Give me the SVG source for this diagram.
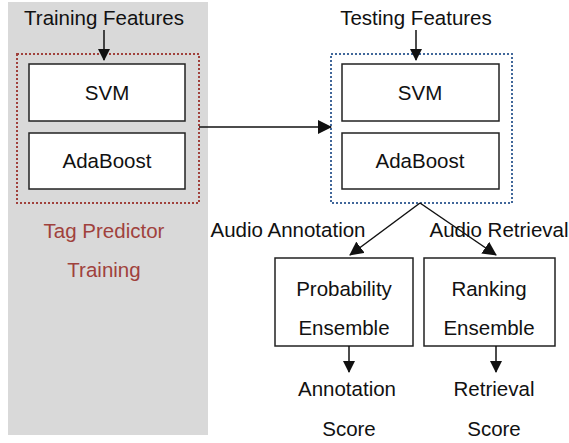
<svg xmlns="http://www.w3.org/2000/svg" width="569" height="443" viewBox="0 0 569 443">
<style>
text{font-family:"Liberation Sans",Arial,sans-serif;font-size:20.5px;fill:#111;text-anchor:middle}
.box{fill:#fff;stroke:#222;stroke-width:1.5}
.c{stroke:#111;stroke-width:1.5;fill:none}
.red{fill:#a0413c}
</style>
<defs>
<marker id="ah" markerWidth="12" markerHeight="12" refX="11" refY="6" orient="auto" markerUnits="userSpaceOnUse" viewBox="0 0 12 12">
<path d="M0,0 L12,6 L0,12 z" fill="#111"/>
</marker>
<marker id="ah2" markerWidth="14" markerHeight="14" refX="13" refY="7" orient="auto" markerUnits="userSpaceOnUse" viewBox="0 0 14 14">
<path d="M0,0 L14,7 L0,14 z" fill="#111"/>
</marker>
</defs>
<rect x="8" y="2" width="200" height="433" fill="#d9d9d9"/>
<g id="training">
<text x="104" y="25">Training Features</text>
<rect x="17" y="54" width="182" height="149" fill="none" stroke="#a0413c" stroke-width="2" stroke-dasharray="2,2"/>
<text class="red" x="104" y="238">Tag Predictor</text>
<text class="red" x="104" y="277">Training</text>
</g>
<g id="svm1"><rect class="box" x="29" y="64" width="156" height="57"/><text x="107" y="100">SVM</text></g>
<g id="ada1"><rect class="box" x="29" y="133" width="156" height="56"/><text x="107" y="168">AdaBoost</text></g>
<g id="testing">
<text x="416" y="25">Testing Features</text>
<rect x="331" y="54" width="181" height="149" fill="none" stroke="#41679a" stroke-width="2" stroke-dasharray="2,2"/>
</g>
<g id="svm2"><rect class="box" x="342" y="64" width="157" height="57"/><text x="420" y="100">SVM</text></g>
<g id="ada2"><rect class="box" x="342" y="133" width="157" height="56"/><text x="420" y="168">AdaBoost</text></g>
<g id="labels">
<text x="288" y="237">Audio Annotation</text>
<text x="499" y="237">Audio Retrieval</text>
</g>
<g id="prob"><rect class="box" x="275" y="258" width="138" height="88"/><text x="344" y="296">Probability</text><text x="344" y="335">Ensemble</text></g>
<g id="rank"><rect class="box" x="424" y="258" width="131" height="88"/><text x="489" y="296">Ranking</text><text x="489" y="335">Ensemble</text></g>
<g id="annscore"><text x="347" y="396">Annotation</text><text x="349" y="436">Score</text></g>
<g id="retscore"><text x="494" y="396">Retrieval</text><text x="494" y="436">Score</text></g>
<g id="connectors">
<line class="c" x1="104" y1="30" x2="104" y2="60" marker-end="url(#ah)"/>
<line class="c" x1="416" y1="30" x2="416" y2="60" marker-end="url(#ah)"/>
<line class="c" x1="199" y1="127" x2="331" y2="127" marker-end="url(#ah2)"/>
<line class="c" x1="420" y1="203" x2="350" y2="255" marker-end="url(#ah2)"/>
<line class="c" x1="420" y1="203" x2="496" y2="255" marker-end="url(#ah2)"/>
<line class="c" x1="349" y1="346" x2="349" y2="372" marker-end="url(#ah)"/>
<line class="c" x1="496" y1="346" x2="496" y2="372" marker-end="url(#ah)"/>
</g>
</svg>
